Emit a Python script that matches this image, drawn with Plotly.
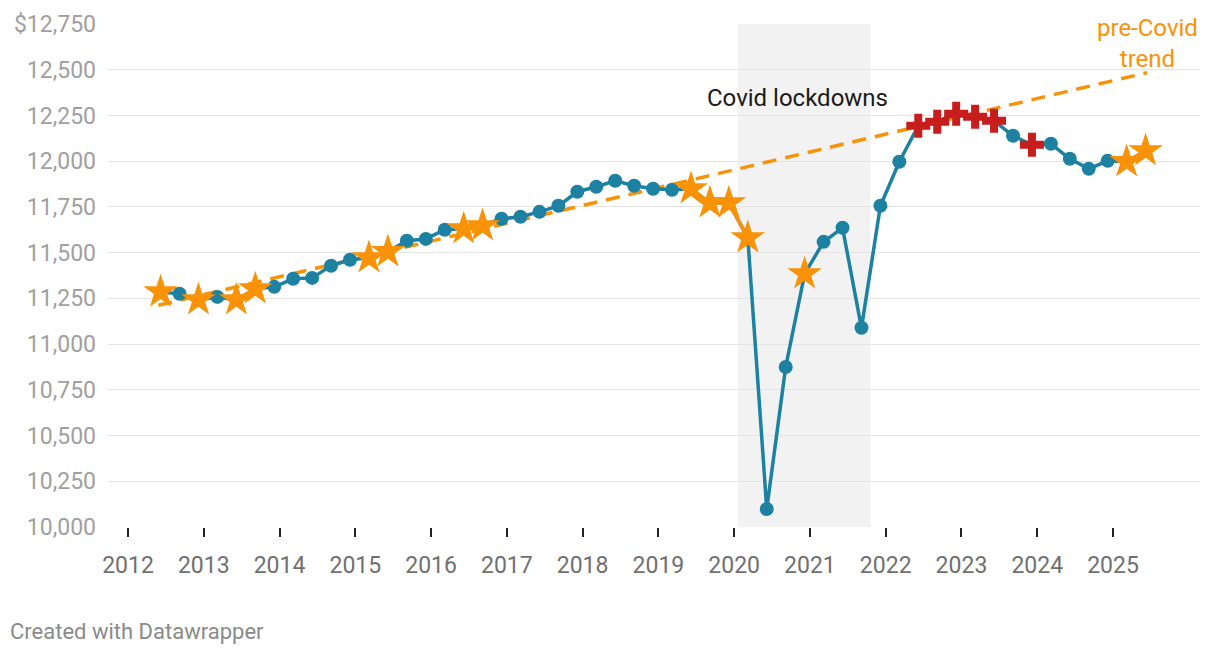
import plotly.graph_objects as go

# ---- data ----
quarters = [f"{y} Q{q}" for y in range(2012, 2026) for q in range(1, 5)][1:54]
values = [11285, 11275, 11242, 11258, 11242, 11302, 11313, 11357, 11362, 11428,
          11461, 11472, 11505, 11565, 11575, 11625, 11630, 11647, 11685, 11696,
          11723, 11756, 11833, 11860, 11893, 11866, 11849, 11844, 11849, 11772,
          11772, 11581, 10098, 10875, 11384, 11559, 11636, 11089, 11756, 11997,
          12194, 12216, 12259, 12243, 12221, 12139, 12090, 12095, 12013, 11958,
          12002, 11997, 12057]
marks = ["s", "d", "s", "d", "s", "s", "d", "d", "d", "d",
         "d", "s", "s", "d", "d", "d", "s", "s", "d", "d",
         "d", "d", "d", "d", "d", "d", "d", "d", "s", "s",
         "s", "s", "d", "d", "s", "d", "d", "d", "d", "d",
         "p", "p", "p", "p", "p", "d", "p", "d", "d", "d",
         "d", "s", "s"]
trend_x = [2012.40, 2025.45]
trend_y = [11212, 12484]
covid_start, covid_end = 2020.05, 2021.80
year_ticks = list(range(2012, 2026))
y_ticks = [10000, 10250, 10500, 10750, 11000, 11250, 11500, 11750, 12000, 12250, 12500, 12750]
y_labels = [f"{v:,}" for v in y_ticks[:-1]] + ["$12,750"]


def qpos(label):
    y, q = label.split(" Q")
    return int(y) + (int(q) - 1) * 0.25 + 0.18


x = [qpos(q) for q in quarters]

TEAL = "#1d81a2"
ORANGE = "#f99207"
RED = "#c71e1d"
FONT = "Roboto"

fig = go.Figure()

# pre-Covid trend (below data)
fig.add_trace(go.Scatter(x=trend_x, y=trend_y, mode="lines",
                         line=dict(color=ORANGE, width=3.5, dash="14px,9px"),
                         hoverinfo="skip", showlegend=False))

# main line with dots
dot_x = [xi for xi, m in zip(x, marks) if m == "d"]
dot_y = [v for v, m in zip(values, marks) if m == "d"]
fig.add_trace(go.Scatter(x=x, y=values, mode="lines",
                         line=dict(color=TEAL, width=3.5), showlegend=False))
fig.add_trace(go.Scatter(x=dot_x, y=dot_y, mode="markers",
                         marker=dict(color=TEAL, size=14), showlegend=False))

# orange segments between consecutive stars
star_line = [v if m == "s" else None for v, m in zip(values, marks)]
fig.add_trace(go.Scatter(x=x, y=star_line, mode="lines", connectgaps=False,
                         line=dict(color=ORANGE, width=3.5), showlegend=False))
star_x = [xi for xi, m in zip(x, marks) if m == "s"]
star_y = [v for v, m in zip(values, marks) if m == "s"]
fig.add_trace(go.Scatter(x=star_x, y=star_y, mode="markers",
                         marker=dict(color=ORANGE, size=26, symbol="star",
                                     line=dict(width=0)), showlegend=False))

# red crosses
plus_line = [v if m == "p" else None for v, m in zip(values, marks)]
fig.add_trace(go.Scatter(x=x, y=plus_line, mode="lines", connectgaps=False,
                         line=dict(color=RED, width=3.5), showlegend=False))
plus_x = [xi for xi, m in zip(x, marks) if m == "p"]
plus_y = [v for v, m in zip(values, marks) if m == "p"]
fig.add_trace(go.Scatter(x=plus_x, y=plus_y, mode="markers",
                         marker=dict(color=RED, size=20, symbol="cross",
                                     line=dict(width=0)), showlegend=False))

# shaded covid period
fig.add_shape(type="rect", xref="x", yref="paper", x0=covid_start, x1=covid_end,
              y0=0, y1=1, fillcolor="#f2f2f2", line=dict(width=0), layer="below")

fig.add_annotation(x=2020.84, y=12347, text="Covid lockdowns", showarrow=False,
                   font=dict(family=FONT, size=24, color="#1a1a1a"))
fig.add_annotation(x=2025.46, y=12642, text="pre-Covid<br>trend", showarrow=False,
                   font=dict(family=FONT, size=24, color=ORANGE))
fig.add_annotation(xref="paper", yref="paper", x=-100 / 1092, y=-104 / 503,
                   xanchor="left", yanchor="middle", text="Created with Datawrapper",
                   showarrow=False, font=dict(family=FONT, size=22, color="#8a8a8a"))

# page body has an 8px default margin, so the figure is sized/offset to compensate
fig.update_layout(
    width=1212, height=646,
    margin=dict(l=100, r=20, t=16, b=127, autoexpand=False),
    plot_bgcolor="white", paper_bgcolor="white",
    font=dict(family=FONT),
    xaxis=dict(range=[2011.736, 2026.148], tickvals=year_ticks,
               ticktext=[str(t) for t in year_ticks], showgrid=False,
               zeroline=False, showline=False, ticks="outside", ticklen=9,
               tickwidth=1.5, tickcolor="#222", ticklabelstandoff=8,
               automargin=False,
               tickfont=dict(family=FONT, size=23, color="#707070")),
    yaxis=dict(range=[10000, 12750], tickvals=y_ticks, ticktext=y_labels,
               showgrid=True, gridcolor="#e4e4e4", gridwidth=1, zeroline=False,
               showline=False, ticks="", ticklabelstandoff=11, automargin=False,
               tickfont=dict(family=FONT, size=23, color="#a0a0a0")),
)

fig.write_html("out.html")
